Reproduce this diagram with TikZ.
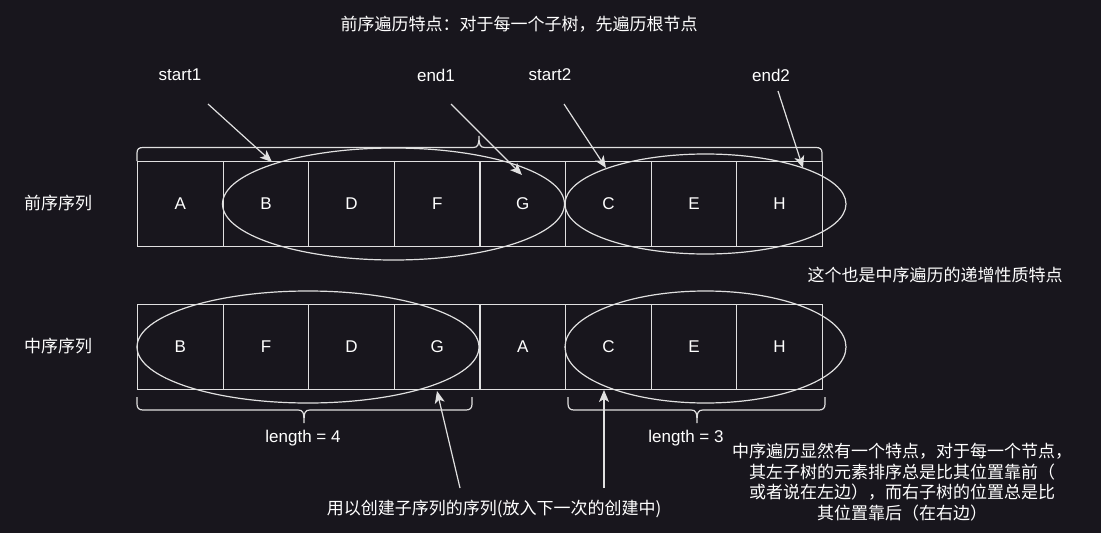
\documentclass[tikz,border=0pt]{standalone}
\usepackage{fontspec}
\setmainfont{Liberation Sans}
\newfontfamily\cjk{Noto Sans CJK SC}
\usetikzlibrary{arrows.meta}
\definecolor{bg}{HTML}{18161D}
\definecolor{ln}{HTML}{E0E0E0}
\begin{document}
\begin{tikzpicture}[x=1pt,y=-1pt,
  cell/.style={draw=ln,line width=1.2pt,minimum width=85.6pt,minimum height=85pt,inner sep=0pt,anchor=north west,text=white,font=\fontsize{17}{20}\selectfont},
  ring/.style={draw=ln,line width=1.2pt},
  brace/.style={draw=ln,line width=1.2pt},
  lbl/.style={text=white,font=\fontsize{17}{20}\selectfont,inner sep=0pt},
  cj/.style={text=white,font=\cjk\fontsize{17}{20.7}\selectfont,inner sep=0pt},
  arr/.style={draw=ln,line width=1.2pt,-{Stealth[length=12pt,width=10pt,inset=3pt]}}]
\fill[bg] (0,0) rectangle (1101,533);
\useasboundingbox (0,0) rectangle (1101,533);

% title
\node[cj] (title) at (519,24) {前序遍历特点：对于每一个子树，先遍历根节点};

% row labels
\node[cj] (pre) at (58,203) {前序序列};
\node[cj] (in) at (58,346) {中序序列};

% preorder cells
\foreach \t [count=\i from 0] in {A,B,D,F,G,C,E,H}
  \node[cell] (p\i) at ({137+85.6*\i},161) {\t};
% inorder cells
\foreach \t [count=\i from 0] in {B,F,D,G,A,C,E,H}
  \node[cell] (q\i) at ({137+85.6*\i},304) {\t};

% ellipses
\draw[ring] (393.5,204) ellipse [x radius=171, y radius=56];
\draw[ring] (705.5,204) ellipse [x radius=140.5, y radius=50];
\draw[ring] (308,347) ellipse [x radius=171, y radius=56];
\draw[ring] (705.5,347) ellipse [x radius=140.5, y radius=56];

% top brace
\draw[brace] (137,161) -- (137,153) .. controls (137,149) and (139,147.5) .. (143,147.5)
  -- (473,147.5) .. controls (478,147.5) and (479,145) .. (479,136)
  .. controls (479,145) and (480,147.5) .. (485,147.5)
  -- (816,147.5) .. controls (820,147.5) and (822,149) .. (822,153) -- (822,161);

% bottom braces
\draw[brace] (137,397) -- (137,404) .. controls (137,408) and (139,410) .. (143,410)
  -- (298,410) .. controls (303,410) and (304,412) .. (304,423)
  .. controls (304,412) and (305,410) .. (310,410)
  -- (466,410) .. controls (470,410) and (472,408) .. (472,404) -- (472,397);
\draw[brace] (568,397) -- (568,404) .. controls (568,408) and (570,410) .. (574,410)
  -- (691,410) .. controls (696,410) and (697,412) .. (697,423)
  .. controls (697,412) and (698,410) .. (703,410)
  -- (819,410) .. controls (823,410) and (825,408) .. (825,404) -- (825,397);

\node[lbl] (len4) at (303,438) {length = 4};
\node[lbl] (len3) at (686,438) {length = 3};

% pointer labels
\node[lbl] (s1) at (180,75) {start1};
\node[lbl] (e1) at (436,75) {end1};
\node[lbl] (s2) at (550,75) {start2};
\node[lbl] (e2) at (771,75) {end2};

\coordinate (s1a) at (208,104); \coordinate (s1b) at (272,162);
\coordinate (e1a) at (451,104); \coordinate (e1b) at (522,175);
\coordinate (s2a) at (564,104); \coordinate (s2b) at (606,168);
\coordinate (e2a) at (778,91);  \coordinate (e2b) at (803,168);
\draw[arr] (s1a) -- (s1b);
\draw[arr] (e1a) -- (e1b);
\draw[arr] (s2a) -- (s2b);
\draw[arr] (e2a) -- (e2b);

% bottom arrows
\coordinate (b1a) at (460,488); \coordinate (b1b) at (437,391);
\coordinate (b2a) at (604,488); \coordinate (b2b) at (604,390);
\draw[arr] (b1a) -- (b1b);
\draw[arr] (b2a) -- (b2b);

\node[cj] (use) at (494,509) {用以创建子序列的序列(放入下一次的创建中)};
\node[cj] (inc) at (935,275) {这个也是中序遍历的递增性质特点};
\node[cj,align=center] (note) at (902,482) {中序遍历显然有一个特点，对于每一个节点，\\其左子树的元素排序总是比其位置靠前（\\或者说在左边），而右子树的位置总是比\\其位置靠后（在右边）};
\end{tikzpicture}
\end{document}
